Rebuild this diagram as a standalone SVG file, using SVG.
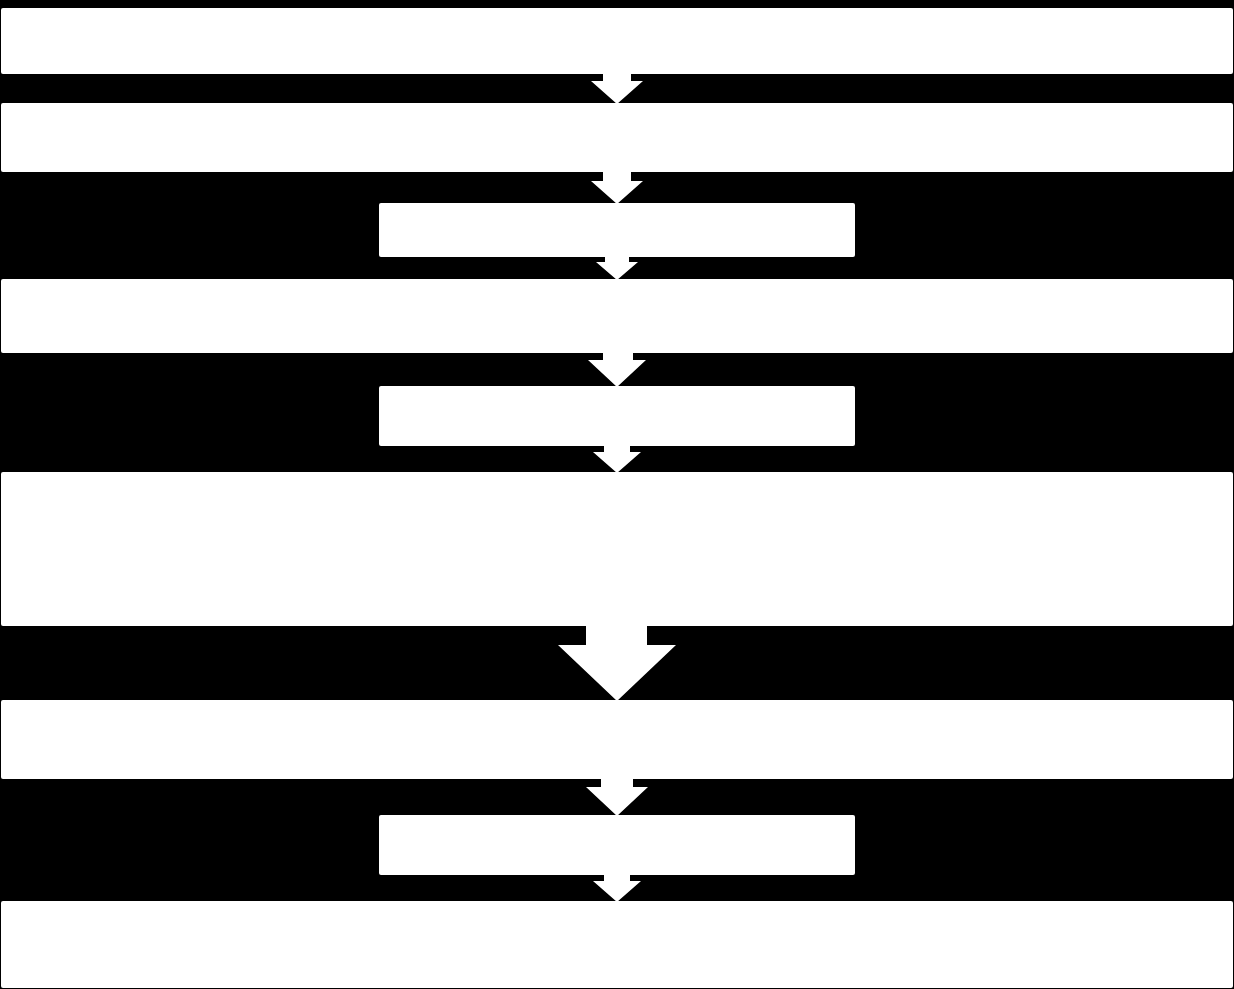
<svg xmlns="http://www.w3.org/2000/svg" width="1234" height="989" viewBox="0 0 1234 989">
<style>
.box{fill:#ffffff;stroke:none}
.arr{fill:#ffffff;stroke:none}
</style>
<rect x="0" y="0" width="1234" height="989" fill="#000000"/>
<g id="connectors">
<polygon class="arr" points="603,73 631,73 631,81 643,81 617,104 591,81 603,81"/>
<polygon class="arr" points="603,171 631,171 631,181 643,181 617,204 591,181 603,181"/>
<polygon class="arr" points="605,256 629,256 629,262 638,262 617,280 596,262 605,262"/>
<polygon class="arr" points="603,352 633,352 633,360 646,360 617,387 588,360 603,360"/>
<polygon class="arr" points="604,445 630,445 630,452 641,452 617,473 593,452 604,452"/>
<polygon class="arr" points="586,625 647,625 647,645 676,645 617,701 558,645 586,645"/>
<polygon class="arr" points="601,778 633,778 633,787 648,787 617,816 586,787 601,787"/>
<polygon class="arr" points="604,874 630,874 630,881 641,881 617,902 593,881 604,881"/>
</g>
<g id="node1"><rect class="box" x="1" y="8" width="1232" height="66" rx="2"/></g>
<g id="node2"><rect class="box" x="1" y="103" width="1232" height="69" rx="2"/></g>
<g id="node3"><rect class="box" x="379" y="203" width="476" height="54" rx="2"/></g>
<g id="node4"><rect class="box" x="1" y="279" width="1232" height="74" rx="2"/></g>
<g id="node5"><rect class="box" x="379" y="386" width="476" height="60" rx="2"/></g>
<g id="node6"><rect class="box" x="1" y="472" width="1232" height="154" rx="2"/></g>
<g id="node7"><rect class="box" x="1" y="700" width="1232" height="79" rx="2"/></g>
<g id="node8"><rect class="box" x="379" y="815" width="476" height="60" rx="2"/></g>
<g id="node9"><rect class="box" x="1" y="901" width="1232" height="87" rx="2"/></g>
</svg>
